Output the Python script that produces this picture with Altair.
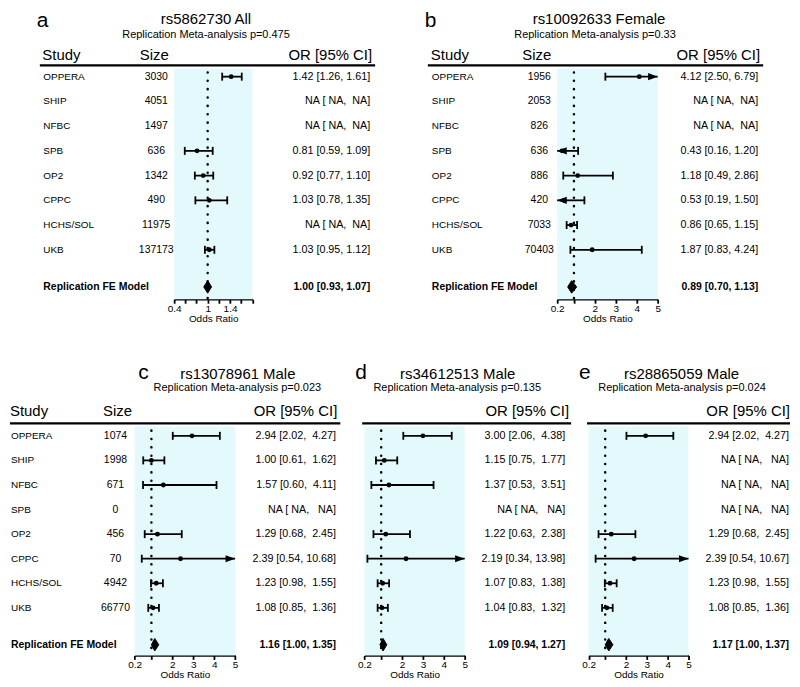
import altair as alt
import pandas as pd
import numpy as np

# ---------------- data ----------------
STUDIES = ["OPPERA", "SHIP", "NFBC", "SPB", "OP2", "CPPC", "HCHS/SOL", "UKB"]
FE_LABEL = "Replication FE Model"
AXIS_TITLE = "Odds Ratio"
HEAD_STUDY, HEAD_SIZE, HEAD_OR = "Study", "Size", "OR [95% CI]"

NA = None

A_LETTER, A_TITLE, A_SUB = "a", "rs5862730 All", "Replication Meta-analysis p=0.475"
A_SIZE = [3030, 4051, 1497, 636, 1342, 490, 11975, 137173]
A_EST = [1.42, NA, NA, 0.81, 0.92, 1.03, NA, 1.03]
A_LO = [1.26, NA, NA, 0.59, 0.77, 0.78, NA, 0.95]
A_HI = [1.61, NA, NA, 1.09, 1.10, 1.35, NA, 1.12]
A_FE = [1.00, 0.93, 1.07]
A_DOMAIN = [0.4, 1.8]
A_TICKS = [0.4, 0.6, 0.8, 1.0, 1.2, 1.4, 1.6, 1.8]
A_TICKLABELS = [0.4, 1.0, 1.4]

B_LETTER, B_TITLE, B_SUB = "b", "rs10092633 Female", "Replication Meta-analysis p=0.33"
B_SIZE = [1956, 2053, 826, 636, 886, 420, 7033, 70403]
B_EST = [4.12, NA, NA, 0.43, 1.18, 0.53, 0.86, 1.87]
B_LO = [2.50, NA, NA, 0.16, 0.49, 0.19, 0.65, 0.83]
B_HI = [6.79, NA, NA, 1.20, 2.86, 1.50, 1.15, 4.24]
B_FE = [0.89, 0.70, 1.13]

C_LETTER, C_TITLE, C_SUB = "c", "rs13078961 Male", "Replication Meta-analysis p=0.023"
C_SIZE = [1074, 1998, 671, 0, 456, 70, 4942, 66770]
C_EST = [2.94, 1.00, 1.57, NA, 1.29, 2.39, 1.23, 1.08]
C_LO = [2.02, 0.61, 0.60, NA, 0.68, 0.54, 0.98, 0.85]
C_HI = [4.27, 1.62, 4.11, NA, 2.45, 10.68, 1.55, 1.36]
C_FE = [1.16, 1.00, 1.35]

D_LETTER, D_TITLE, D_SUB = "d", "rs34612513 Male", "Replication Meta-analysis p=0.135"
D_EST = [3.00, 1.15, 1.37, NA, 1.22, 2.19, 1.07, 1.04]
D_LO = [2.06, 0.75, 0.53, NA, 0.63, 0.34, 0.83, 0.83]
D_HI = [4.38, 1.77, 3.51, NA, 2.38, 13.98, 1.38, 1.32]
D_FE = [1.09, 0.94, 1.27]

E_LETTER, E_TITLE, E_SUB = "e", "rs28865059 Male", "Replication Meta-analysis p=0.024"
E_EST = [2.94, NA, NA, NA, 1.29, 2.39, 1.23, 1.08]
E_LO = [2.02, NA, NA, NA, 0.68, 0.54, 0.98, 0.85]
E_HI = [4.27, NA, NA, NA, 2.45, 10.67, 1.55, 1.36]
E_FE = [1.17, 1.00, 1.37]

WIDE_DOMAIN = [0.2, 5.0]
WIDE_TICKS = [0.2, 1.0, 2.0, 3.0, 4.0, 5.0]
WIDE_TICKLABELS = [0.2, 2.0, 3.0, 4.0, 5.0]

# ---------------- styles / layout ----------------
FONT = "Liberation Sans"
BAND = "#e4f9fb"
STUDY_FS = 10
SIZE_FS = 10.5
OR_FS = 10.8
FE_FS = 10.5
HEAD_FS = 15
TITLE_FS = 15
SUB_FS = 11
LETTER_FS = 21
NB = "\u00a0"

# top row panels: origin at page (8, 8); bottom row: origin y at page 323
LAY_A = dict(W=392, H=315, axis_y=289, letter=(27, 15), title=(197, 12), sub=(197, 26), hdr_y=49,
             study_x=33.5, size_x=155 - 8, size_hdr_x=145, or_x=362, or_hdr_x=364,
             line=(30, 367, 54), xrange=(165, 243.6), y0=65.3, step=24.86, band_top=57)
LAY_B = dict(W=392, H=315, axis_y=289, letter=(25, 15), title=(200, 12), sub=(196, 26), hdr_y=49,
             study_x=32, size_x=140, size_hdr_x=137.5, or_x=360, or_hdr_x=362,
             line=(28, 365, 54), xrange=(158, 259), y0=65.3, step=24.86, band_top=57)
LAY_C = dict(W=342, H=332, axis_y=332, letter=(129, 54), title=(229, 54), sub=(228.5, 66), hdr_y=91,
             study_x=1, size_x=106, size_hdr_x=108, or_x=327.7, or_hdr_x=329,
             line=(0, 332, 98.7), xrange=(125.3, 226.3), y0=111.3, step=24.7, band_top=102)
LAY_D = dict(W=230, H=332, axis_y=332, letter=(5, 54), title=(108, 54), sub=(107.5, 66), hdr_y=91,
             or_x=216, or_hdr_x=220,
             line=(12, 222, 98.7), xrange=(14.3, 115), y0=111.3, step=24.7, band_top=102)
LAY_E = dict(W=212, H=332, axis_y=332, letter=(0, 54), title=(103, 54), sub=(103.5, 66), hdr_y=91,
             or_x=211, or_hdr_x=212,
             line=(8, 212, 98.7), xrange=(9.5, 110), y0=111.3, step=24.7, band_top=102)


def isna(v):
    return v is None or (isinstance(v, float) and np.isnan(v))


def fmt_or(est, lo, hi, hi_w):
    if isna(est):
        return "NA [ NA, " + "NA".rjust(hi_w - 1, NB) + "]"
    return f"{est:.2f} [{lo:.2f}, " + f"{hi:.2f}".rjust(hi_w, NB) + "]"


def label_expr(labels):
    expr = ""
    for v in labels:
        expr += f"datum.value == {v} ? '{v:g}' : "
    return expr + "''"


def txt(text, x, y, size, weight="normal", align="left", baseline="alphabetic"):
    return alt.Chart(pd.DataFrame({"t": [text]})).mark_text(
        font=FONT, fontSize=size, fontWeight=weight, align=align, baseline=baseline, color="black"
    ).encode(x=alt.value(x), y=alt.value(y), text="t:N")


def panel(lay, letter, title, sub, est, lo, hi, fe, domain, ticks, ticklabels, sizes=None):
    n = len(STUDIES)
    fe_row = n + 1.5
    dmin, dmax = domain
    W, H, AY = lay["W"], lay["H"], lay["axis_y"]
    xs = alt.Scale(domain=list(domain), range=list(lay["xrange"]), zero=False, nice=False)
    ys = alt.Scale(domain=[1, n], range=[lay["y0"], lay["y0"] + (n - 1) * lay["step"]],
                   zero=False, nice=False)
    axis = alt.Axis(values=ticks, labelExpr=label_expr(ticklabels), title=AXIS_TITLE,
                    orient="bottom", offset=AY - H, grid=False, domainColor="black", domainWidth=1.8,
                    tickColor="black", tickWidth=1.8, tickSize=4, labelFont=FONT,
                    labelFontSize=10, labelColor="black", labelPadding=0, labelOverlap=False,
                    labelFlush=False, titleFont=FONT, titleFontSize=10, titleFontWeight="normal",
                    titleColor="black", titlePadding=0)

    def X(f):
        return alt.X(f, type="quantitative", scale=xs, axis=axis)

    def Y(f):
        return alt.Y(f, type="quantitative", scale=ys, axis=None)

    his = [h for h in hi if not isna(h)]
    hi_w = max(len(f"{h:.2f}") for h in his)
    df = pd.DataFrame({
        "row": list(range(1, n + 1)),
        "study": STUDIES,
        "est": [np.nan if isna(v) else v for v in est],
        "lo": [np.nan if isna(v) else v for v in lo],
        "hi": [np.nan if isna(v) else v for v in hi],
    })
    df["label"] = [fmt_or(e, l, h, hi_w) for e, l, h in zip(est, lo, hi)]
    if sizes is not None:
        df["size"] = [str(s) for s in sizes]
    ok = df.dropna(subset=["est"]).copy()
    ok["lo_c"] = ok["lo"].clip(lower=dmin)
    ok["hi_c"] = ok["hi"].clip(upper=dmax)

    caps = []
    for _, r in ok.iterrows():
        if r["lo"] >= dmin:
            caps.append({"row": r["row"], "x": r["lo"]})
        if r["hi"] <= dmax:
            caps.append({"row": r["row"], "x": r["hi"]})
    caps = pd.DataFrame(caps)
    arr_r = ok[ok["hi"] > dmax].assign(x=dmax)[["row", "x"]]
    arr_l = ok[ok["lo"] < dmin].assign(x=dmin)[["row", "x"]]

    half = 6.3 / lay["step"]
    dia = pd.DataFrame({"x": [fe[1], fe[0], fe[2]],
                        "y1": [fe_row, fe_row - half, fe_row],
                        "y2": [fe_row, fe_row + half, fe_row]})

    layers = []
    layers.append(alt.Chart(pd.DataFrame({"x0": [dmin], "x1": [dmax]})).mark_rect(
        color=BAND).encode(x=X("x0"), x2=alt.X2("x1"), y=alt.value(lay["band_top"]), y2=alt.value(AY)))
    layers.append(alt.Chart(pd.DataFrame({"ref": [1.0]})).mark_rule(
        color="black", strokeWidth=2.5, strokeCap="round", strokeDash=[0.1, 8.3]).encode(
        x=X("ref"), y=alt.value(lay["band_top"] + 4), y2=alt.value(AY)))
    lx0, lx1, ly = lay["line"]
    layers.append(alt.Chart(pd.DataFrame({"k": [0]})).mark_rule(
        color="black", strokeWidth=2.2).encode(x=alt.value(lx0), x2=alt.value(lx1), y=alt.value(ly)))
    layers.append(alt.Chart(ok).mark_rule(color="black", strokeWidth=1.8).encode(
        x=X("lo_c"), x2=alt.X2("hi_c"), y=Y("row")))
    if len(caps):
        layers.append(alt.Chart(caps).mark_point(
            shape="M0,-1L0,1", size=64, strokeWidth=1.8, color="black", opacity=1, filled=False
        ).encode(x=X("x"), y=Y("row")))
    layers.append(alt.Chart(ok).mark_point(
        shape="circle", filled=True, size=24, color="black", opacity=1).encode(x=X("est"), y=Y("row")))
    if len(arr_r):
        layers.append(alt.Chart(arr_r).mark_point(
            shape="M0,0L-2.4,-0.9L-2.4,0.9Z", filled=True, size=64, color="black", opacity=1
        ).encode(x=X("x"), y=Y("row")))
    if len(arr_l):
        layers.append(alt.Chart(arr_l).mark_point(
            shape="M0,0L2.4,-0.9L2.4,0.9Z", filled=True, size=64, color="black", opacity=1
        ).encode(x=X("x"), y=Y("row")))
    layers.append(alt.Chart(dia).mark_area(
        color="black", stroke="black", strokeWidth=1, orient="vertical", opacity=1).encode(
        x=X("x"), y=Y("y1"), y2=alt.Y2("y2")))

    # text columns
    if "study_x" in lay:
        layers.append(alt.Chart(df).mark_text(
            font=FONT, fontSize=STUDY_FS, align="left", baseline="middle", color="black").encode(
            x=alt.value(lay["study_x"]), y=Y("row"), text="study:N"))
        layers.append(alt.Chart(df).mark_text(
            font=FONT, fontSize=SIZE_FS, align="center", baseline="middle", color="black").encode(
            x=alt.value(lay["size_x"]), y=Y("row"), text="size:N"))
        layers.append(alt.Chart(pd.DataFrame({"row": [fe_row], "t": [FE_LABEL]})).mark_text(
            font=FONT, fontSize=FE_FS, fontWeight="bold", align="left", baseline="middle",
            color="black").encode(x=alt.value(lay["study_x"]), y=Y("row"), text="t:N"))
        layers.append(txt(HEAD_STUDY, lay["study_x"] - 1, lay["hdr_y"], HEAD_FS))
        layers.append(txt(HEAD_SIZE, lay["size_hdr_x"], lay["hdr_y"], HEAD_FS, align="center"))
    layers.append(alt.Chart(df).mark_text(
        font=FONT, fontSize=OR_FS, align="right", baseline="middle", color="black").encode(
        x=alt.value(lay["or_x"]), y=Y("row"), text="label:N"))
    fe_lab = f"{fe[0]:.2f} [{fe[1]:.2f}, {fe[2]:.2f}]"
    layers.append(alt.Chart(pd.DataFrame({"row": [fe_row], "t": [fe_lab]})).mark_text(
        font=FONT, fontSize=FE_FS, fontWeight="bold", align="right", baseline="middle",
        color="black").encode(x=alt.value(lay["or_x"]), y=Y("row"), text="t:N"))
    layers.append(txt(HEAD_OR, lay["or_hdr_x"], lay["hdr_y"], HEAD_FS, align="right"))

    # titles
    layers.append(txt(letter, lay["letter"][0], lay["letter"][1], LETTER_FS))
    layers.append(txt(title, lay["title"][0], lay["title"][1], TITLE_FS, align="center"))
    layers.append(txt(sub, lay["sub"][0], lay["sub"][1], SUB_FS, align="center"))

    return alt.layer(*layers).properties(width=W, height=H)


pa = panel(LAY_A, A_LETTER, A_TITLE, A_SUB, A_EST, A_LO, A_HI, A_FE, A_DOMAIN, A_TICKS, A_TICKLABELS, A_SIZE)
pb = panel(LAY_B, B_LETTER, B_TITLE, B_SUB, B_EST, B_LO, B_HI, B_FE, WIDE_DOMAIN, WIDE_TICKS, WIDE_TICKLABELS, B_SIZE)
pc = panel(LAY_C, C_LETTER, C_TITLE, C_SUB, C_EST, C_LO, C_HI, C_FE, WIDE_DOMAIN, WIDE_TICKS, WIDE_TICKLABELS, C_SIZE)
pd_ = panel(LAY_D, D_LETTER, D_TITLE, D_SUB, D_EST, D_LO, D_HI, D_FE, WIDE_DOMAIN, WIDE_TICKS, WIDE_TICKLABELS)
pe = panel(LAY_E, E_LETTER, E_TITLE, E_SUB, E_EST, E_LO, E_HI, E_FE, WIDE_DOMAIN, WIDE_TICKS, WIDE_TICKLABELS)

top = alt.hconcat(pa, pb, spacing=0, bounds="flush")
bot = alt.hconcat(pc, pd_, pe, spacing=0, bounds="flush")
chart = alt.vconcat(top, bot, spacing=0).properties(
    padding=0, background="white").configure_view(stroke=None)

chart.save("out.html", embed_options={"renderer": "svg", "actions": False})
